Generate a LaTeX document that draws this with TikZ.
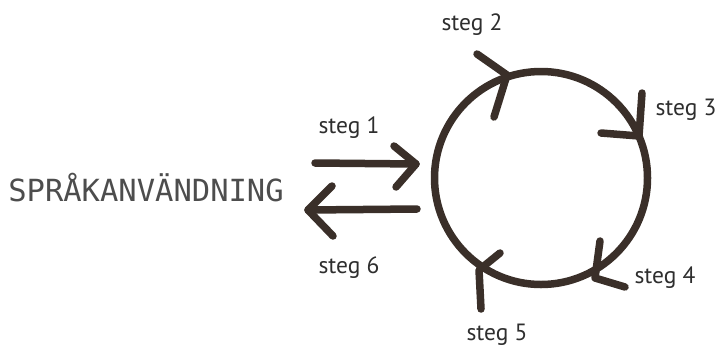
\documentclass[tikz,border=0pt]{standalone}
\usepackage{fontspec}
\newfontfamily\stegfont{PT Sans}
\newfontfamily\monofont{DejaVu Sans Mono}
\definecolor{ink}{HTML}{3A2F29}
\definecolor{txt}{HTML}{2E2E2E}
\begin{document}
\begin{tikzpicture}[x=1pt,y=-1pt,
  stroke/.style={draw=ink,line width=7.5pt,line cap=round,line join=round},
  lab/.style={font=\stegfont\fontsize{23.5}{25}\selectfont,text=txt,inner sep=0pt}]
\useasboundingbox (0,0) rectangle (719,346);
% cycle
\node[circle,stroke,minimum size=213pt,inner sep=0pt] (cyc) at (541,178) {};
% main label
\node[font=\monofont\fontsize{30.5}{31}\selectfont,text=txt!85,inner sep=0pt] (lang) at (146,188) {SPRÅKANVÄNDNING};
% labels
\node[lab] (s1) at (349,128) {steg 1};
\node[lab] (s2) at (472,25) {steg 2};
\node[lab] (s3) at (686,110) {steg 3};
\node[lab] (s4) at (665,278) {steg 4};
\node[lab] (s5) at (497,335) {steg 5};
\node[lab] (s6) at (349,268) {steg 6};
% steg 1 arrow
\coordinate (a1s) at (315,163);
\coordinate (a1e) at (416,164);
\coordinate (a1u) at (394,146);
\coordinate (a1d) at (396,187);
\draw[stroke] (a1s) -- (a1e);
\draw[stroke] (a1u) -- (a1e) -- (a1d);
% steg 6 arrow
\coordinate (a6s) at (417,209);
\coordinate (a6e) at (308,210);
\coordinate (a6u) at (332,186);
\coordinate (a6d) at (333,236);
\draw[stroke] (a6s) -- (a6e);
\draw[stroke] (a6u) -- (a6e) -- (a6d);
% chevrons on the cycle
\coordinate (c2t) at (507,75);
\coordinate (c2a) at (477,54);
\coordinate (c2b) at (494,117);
\draw[stroke] (c2a) -- (c2t) -- (c2b);
\coordinate (c3t) at (639,136);
\coordinate (c3a) at (642,93);
\coordinate (c3b) at (601,133);
\draw[stroke] (c3a) -- (c3t) -- (c3b);
\coordinate (c4t) at (595,278);
\coordinate (c4a) at (600,241);
\coordinate (c4b) at (625,287);
\draw[stroke] (c4a) -- (c4t) -- (c4b);
\coordinate (c5t) at (479,270);
\coordinate (c5a) at (500,253);
\coordinate (c5b) at (481,309);
\draw[stroke] (c5a) -- (c5t) -- (c5b);
\end{tikzpicture}
\end{document}
